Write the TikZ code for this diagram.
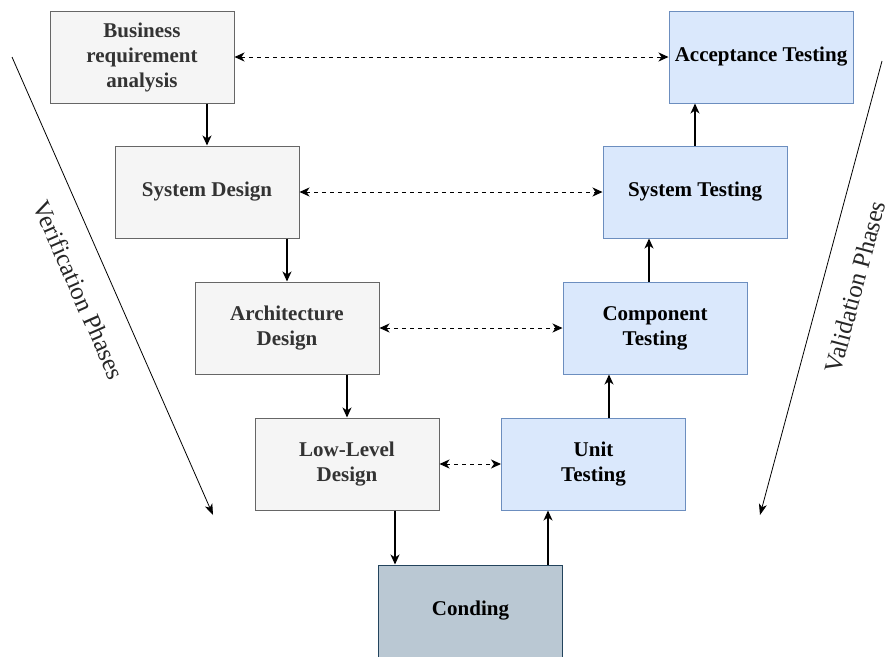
\documentclass[tikz,border=0pt]{standalone}
\usepackage{fontspec}
\setmainfont{Liberation Serif}
\usetikzlibrary{arrows.meta,calc}
\definecolor{grayfill}{HTML}{F5F5F5}
\definecolor{graydraw}{HTML}{666666}
\definecolor{bluefill}{HTML}{DAE8FC}
\definecolor{bluedraw}{HTML}{6C8EBF}
\definecolor{codefill}{HTML}{BAC8D3}
\definecolor{codedraw}{HTML}{23445D}
\begin{document}
\begin{tikzpicture}[x=1pt,y=-1pt,
  box/.style={rectangle, minimum width=184pt, minimum height=92pt, inner sep=0pt, line width=1pt, align=center, font=\fontsize{21}{25}\selectfont\bfseries},
  vbox/.style={box, fill=grayfill, draw=graydraw, text=black!80},
  tbox/.style={box, fill=bluefill, draw=bluedraw, text=black},
  cbox/.style={box, fill=codefill, draw=codedraw, text=black},
  flow/.style={-{Stealth[length=10pt,width=9pt,inset=3pt]}, line width=1.2pt},
  link/.style={{Stealth[length=10pt,width=9pt,inset=3pt]}-{Stealth[length=10pt,width=9pt,inset=3pt]}, line width=1pt, dash pattern=on 4pt off 4pt},
  phase/.style={-{Stealth[length=11pt,width=8pt,inset=3pt]}, line width=0.8pt},
  phasetext/.style={font=\fontsize{25}{30}\selectfont, text=black!85}
]
\useasboundingbox (0,0) rectangle (891,656);
\node[vbox] (bra) at (142,57) {Business\\requirement\\analysis};
\node[vbox] (sd) at (207,192) {System Design};
\node[vbox] (arch) at (287,328) {Architecture\\Design};
\node[vbox] (lld) at (347,464) {Low-Level\\Design};
\node[cbox] (code) at (470.5,611) {Conding};
\node[tbox] (unit) at (593.5,464) {Unit\\Testing};
\node[tbox] (comp) at (655,328) {Component\\Testing};
\node[tbox] (st) at (695,192) {System Testing};
\node[tbox] (at) at (761,57) {Acceptance Testing};

\draw[flow] (bra.south -| sd.north) -- (sd.north);
\draw[flow] (sd.south -| arch.north) -- (arch.north);
\draw[flow] (arch.south -| lld.north) -- (lld.north);
\draw[flow] (lld.south -| 395,0) -- (code.north -| 395,0);
\draw[flow] (code.north -| 548,0) -- (unit.south -| 548,0);
\draw[flow] (unit.north -| 609,0) -- (comp.south -| 609,0);
\draw[flow] (comp.north -| 649,0) -- (st.south -| 649,0);
\draw[flow] (st.north) -- (at.south -| st.north);

\draw[link] (bra.east) -- (at.west);
\draw[link] (sd.east) -- (st.west);
\draw[link] (arch.east) -- (comp.west);
\draw[link] (lld.east) -- (unit.west);

\coordinate (v1) at (12,57);
\coordinate (v2) at (213,515);
\coordinate (w1) at (882,61);
\coordinate (w2) at (760,515);
\draw[phase] (v1) -- (v2);
\draw[phase] (w1) -- (w2);
\node[phasetext, rotate=-66.3] (vt) at (79,290) {Verification Phases};
\node[phasetext, rotate=75.1] (wt) at (855,287) {Validation Phases};
\end{tikzpicture}
\end{document}
